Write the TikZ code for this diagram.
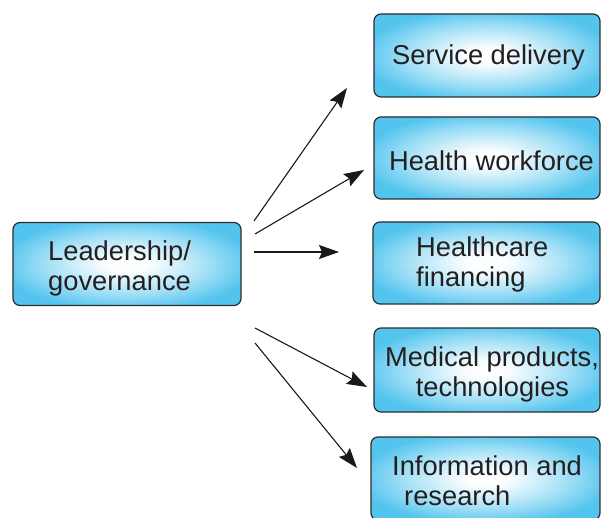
\documentclass[tikz,border=0pt]{standalone}
\usepackage{fontspec}
\setmainfont{Liberation Sans}
\usetikzlibrary{arrows.meta}
\definecolor{boxcyan}{RGB}{82,196,238}
\definecolor{boxline}{RGB}{45,45,48}
\definecolor{textgray}{RGB}{35,31,32}
\pgfdeclareradialshading{boxshade}{\pgfpoint{0bp}{0bp}}{color(0bp)=(white); color(5bp)=(white!97!boxcyan); color(17bp)=(boxcyan!50!white); color(28bp)=(boxcyan); color(50bp)=(boxcyan)}
\tikzset{
  sysbox/.style={draw=boxline, line width=1.2pt, rounded corners=7pt, shading=boxshade,
    minimum width=227pt, minimum height=83pt, inner sep=0pt},
  txt/.style={inner sep=0pt, text=textgray, font=\fontsize{27.3}{30}\selectfont},
  arr/.style={draw=black!90, line width=1.1pt, -{Stealth[length=20pt,width=14pt,inset=3pt]}}
}
\begin{document}
\begin{tikzpicture}[x=1pt,y=-1pt]
\useasboundingbox (0,0) rectangle (601,518);
% boxes
\node[sysbox, minimum width=228pt] (lead) at (127,264) {};
\node[sysbox, minimum width=226pt] (serv) at (487,55.5) {};
\node[sysbox, minimum width=226pt, minimum height=82pt] (work) at (487,158) {};
\node[sysbox, minimum width=227pt, minimum height=82pt] (fin) at (486.5,263) {};
\node[sysbox, minimum width=226pt, minimum height=84pt] (med) at (487,370) {};
\node[sysbox, minimum width=229pt] (info) at (485.5,478.5) {};
% texts
\node[txt, anchor=base west] (leadA) at (48,260) {Leadership/};
\node[txt, anchor=base west] (leadB) at (48,290) {governance};
\node[txt, anchor=base] (servA) at (488.5,65) {Service delivery};
\node[txt, anchor=base] (workA) at (491.5,170.5) {Health workforce};
\node[txt, anchor=base west] (finA) at (416,256.5) {Healthcare};
\node[txt, anchor=base west] (finB) at (416,286.5) {financing};
\node[txt, anchor=base] (medA) at (492,366) {Medical products,};
\node[txt, anchor=base] (medB) at (492.5,396) {technologies};
\node[txt, anchor=base west] (infoA) at (392,475) {Information and};
\node[txt, anchor=base west] (infoB) at (404,505) {research};
% connectors
\coordinate (s1) at (254,221);
\coordinate (s2) at (255,234);
\coordinate (s3) at (254,252);
\coordinate (s4) at (255,328);
\coordinate (s5) at (255,343);
\coordinate (t1) at (347,88);
\coordinate (t2) at (364,170);
\coordinate (t3) at (339,252);
\coordinate (t4) at (367,387);
\coordinate (t5) at (357,468);
\draw[arr] (s1) -- (t1);
\draw[arr] (s2) -- (t2);
\draw[arr] (s3) -- (t3);
\draw[arr] (s4) -- (t4);
\draw[arr] (s5) -- (t5);
\end{tikzpicture}
\end{document}
